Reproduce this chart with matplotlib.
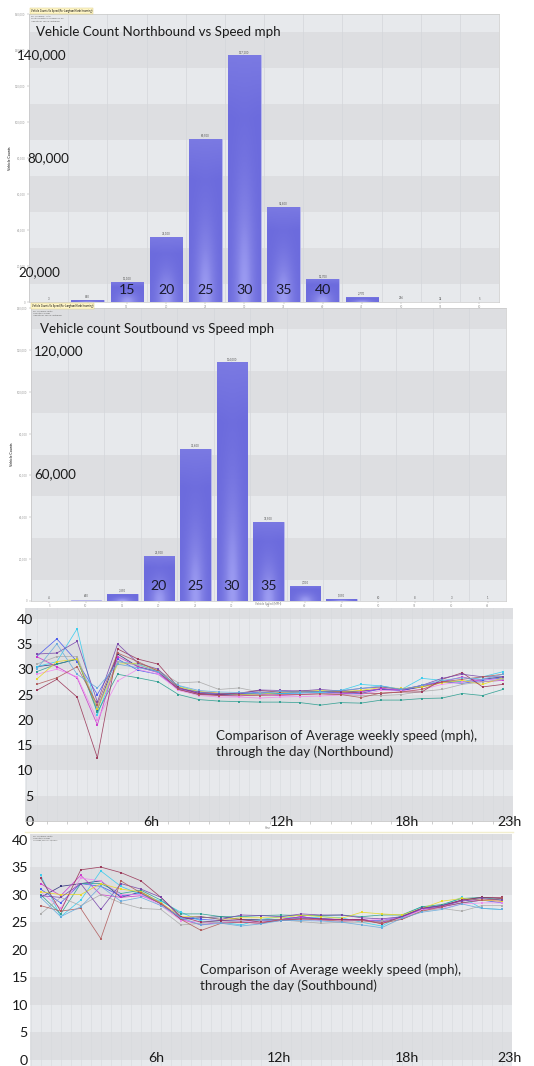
import numpy as np
import matplotlib
matplotlib.use("Agg")
import matplotlib.pyplot as plt
from matplotlib.colors import LinearSegmentedColormap

plt.rcParams['font.family'] = ['Lato', 'DejaVu Sans']

# ---------------- data ----------------
# speed bins (mph) and vehicle counts
nb_speeds = [5, 10, 15, 20, 25, 30, 35, 40, 45, 50, 55, 60]
nb_counts = [3, 860, 11100, 36100, 90500, 137100, 52800, 12700, 2770, 236, 32, 5]

sb_speeds = [5, 10, 15, 20, 25, 30, 35, 40, 45, 50, 55, 60, 65]
sb_counts = [4, 640, 3350, 21500, 72600, 114000, 37900, 7200, 1050, 60, 8, 3, 1]

hours = list(range(24))

# average weekly speed per hour, northbound (one list per week)
nb_weeks = {
    'w1':  [30.5, 31, 32, 22, 33, 30.5, 29.5, 26, 25, 25, 25, 25.3, 25.2, 25.5, 25.6, 25.5, 25.7, 26, 25.8, 26.5, 27.5, 27.5, 28, 28.5],
    'w2':  [32.5, 36, 31.5, 25, 32, 29.8, 29, 26.2, 25.3, 25.1, 25.1, 25.5, 25.2, 25.3, 25.5, 25.3, 25.2, 26.2, 25.7, 26.8, 27.5, 27.2, 27.8, 28.3],
    'w3':  [30.5, 31.5, 38, 21, 31.5, 31, 29.5, 26.7, 25.5, 24.8, 25, 25.1, 25.2, 25.3, 25.4, 25.8, 27, 26.7, 26, 28.2, 27.8, 27.5, 28.5, 29.5],
    'w4':  [29.5, 31, 32, 21.5, 29, 28.3, 27.5, 25, 24, 23.7, 23.6, 23.5, 23.5, 23.4, 22.9, 23.4, 23.3, 23.9, 23.9, 24.2, 24.3, 25.2, 24.8, 26],
    'w5':  [32.5, 30.5, 28.3, 19, 32.5, 30.5, 29.3, 26, 25.2, 24.8, 24.7, 25, 24.8, 25, 25.2, 25.1, 25.5, 26.2, 25.9, 26.8, 27.5, 28.5, 27.5, 27.8],
    'w6':  [29, 30, 28.5, 20, 27.7, 30, 29, 25.8, 24.8, 24.5, 24.5, 24.3, 24.5, 24.6, 24.7, 24.9, 25, 25.8, 25.7, 26, 27, 27.5, 28, 28],
    'w7':  [28, 31.5, 32, 22.2, 31, 31.2, 29.8, 26.5, 25.6, 25.3, 25, 25.1, 25.4, 25.6, 25.8, 25.6, 25.8, 26.4, 26.2, 26.5, 27.3, 27.8, 27, 28.3],
    'w8':  [31, 32.5, 32.5, 22.5, 31.5, 30.8, 29.7, 27.3, 27.5, 26, 26.3, 25.5, 25.5, 25.4, 25.2, 25, 24.8, 24.8, 25, 25.6, 26, 27, 27.5, 28],
    'w9':  [25.8, 28, 24.5, 12.5, 34, 32, 31, 26.4, 25.2, 25, 25.3, 25.8, 25.5, 25.7, 25.6, 25.5, 25.3, 25.2, 25.5, 25.5, 28, 29.3, 26.5, 27],
    'w10': [33, 33.2, 35.5, 23.5, 35, 31.2, 30, 26.2, 25.5, 25.2, 25.1, 25.9, 25.8, 25.7, 26, 25.7, 26.2, 26.5, 26, 26.8, 28.2, 29, 28.5, 28.5],
    'w11': [27, 28.3, 30.5, 23, 33.2, 31.5, 29.6, 26, 25, 24.8, 24.9, 24.8, 25, 25, 25.1, 25, 24.4, 25.3, 25.5, 26, 27.5, 28, 28.5, 29],
    'w12': [30, 35, 29, 26.3, 31, 30.3, 29.5, 26.8, 25.8, 25.5, 25.4, 25.2, 25.6, 25.5, 25.6, 25.8, 26.2, 26.7, 26, 26.8, 27.8, 28.3, 28, 29],
}

# southbound
sb_weeks = {
    'w1':  [29.5, 31.5, 32, 32.5, 29.5, 30.5, 28.5, 25.5, 25.8, 26, 25.5, 25.5, 25.5, 26, 25.5, 25.5, 25.5, 25, 26, 27.5, 28, 29, 29.5, 29.3],
    'w2':  [31, 28.5, 32, 31.5, 29.8, 30.2, 28.3, 25.8, 25.5, 25.3, 25.2, 25.3, 25.3, 25.8, 25.7, 25.4, 25.3, 25.3, 26, 27.3, 27.8, 28.5, 29, 28.5],
    'w3':  [33.5, 26, 29, 34.3, 31.5, 30, 28.8, 26.8, 25.2, 25, 24.5, 25.5, 26, 25.6, 26, 25.8, 25, 24.3, 26.2, 27.8, 28, 29.5, 27.5, 27.3],
    'w4':  [30, 26.5, 32, 32, 30.2, 30.8, 29, 26.5, 26.5, 26, 26, 26.2, 26.3, 26.2, 26.2, 26.3, 26, 26.3, 26.3, 27.8, 28.2, 29.3, 29.5, 29],
    'w5':  [32, 29.8, 33.5, 30, 29.5, 29.8, 28.5, 25.5, 24.5, 25, 25, 24.8, 25.5, 26, 25.5, 25.5, 25.5, 25, 25.8, 27.3, 27.7, 29, 29, 28.8],
    'w6':  [30.5, 27.5, 33, 32.5, 30, 30, 28, 25.3, 25, 24.8, 25.3, 25, 25.3, 25.5, 25.3, 25.2, 25.3, 25.5, 25.7, 27.2, 27.5, 28.3, 28.5, 28.5],
    'w7':  [30.5, 30, 30, 32, 31, 30.5, 28.5, 26, 26, 25.5, 25.8, 25.8, 25.8, 26.3, 26, 25.7, 26.8, 26.5, 26.3, 27.5, 28.8, 29.3, 29, 28.8],
    'w8':  [26.5, 29.5, 28, 30, 28.5, 27.5, 27.3, 24.5, 24.8, 25, 25.2, 25.4, 25.4, 25.1, 24.8, 25, 25, 25.2, 25.5, 27, 27.5, 27, 28, 28],
    'w9':  [33, 27, 34.5, 35, 34, 32.5, 29.5, 26, 25, 25.3, 25.5, 25, 25.3, 25.6, 25.6, 25.5, 25.5, 24.7, 26, 27.5, 28, 29, 29.5, 29.5],
    'w10': [29.8, 29.5, 32, 27.3, 32, 31, 29.5, 25.8, 26, 25.5, 26.3, 26.2, 26, 26.5, 26.3, 26.3, 25.8, 25.6, 26, 27.5, 28, 28.8, 29.3, 29],
    'w11': [28, 27, 27.5, 22, 32.5, 30.3, 28.3, 25.5, 23.5, 24.8, 25, 24.8, 25.5, 25.6, 25.4, 25.2, 25.3, 24.8, 25.5, 27, 27.8, 28.5, 29, 29.3],
    'w12': [29.5, 26, 27.8, 31.5, 28.8, 29.5, 28, 25.8, 24.5, 24.8, 24.3, 24.7, 25.3, 25.3, 25.2, 25, 24.5, 24, 25.7, 26.8, 27.3, 28.3, 27.5, 27.3],
}

week_colors = ['#2b2b7a', '#4455ee', '#33ccee', '#2a9d8f', '#cc33cc', '#ee88ee',
               '#e8d820', '#aaaaaa', '#993355', '#7744aa', '#b05a5a', '#66aadd']

hour_labels = ['6h', '12h', '18h', '23h']

# ---------------- figure ----------------
W, H = 534, 1066
fig = plt.figure(figsize=(W / 100, H / 100), dpi=100)
fig.patch.set_facecolor('white')

BIG = 9.6


def px_axes(x0, y0, x1, y1):
    return fig.add_axes([x0 / W, 1 - y1 / H, (x1 - x0) / W, (y1 - y0) / H])


def ftext(x, y, s, **kw):
    fig.text(x / W, 1 - y / H, s, **kw)


LIGHT = '#e7e9ec'
DARK = '#dddee1'
bar_cmap = LinearSegmentedColormap.from_list('bars', ['#6c6bdd', '#8483e6', '#a6a6f7'])


def bands(ax, start, width, top):
    # alternating darker horizontal stripes
    ax.set_facecolor(LIGHT)
    lo = start
    while lo < top:
        ax.axhspan(lo, lo + width, color=DARK, zorder=0, lw=0)
        lo += 2 * width


def bar_panel(ax, speeds, counts, ymax):
    x = np.arange(len(speeds))
    bands(ax, 10000, 20000, ymax)
    for b in np.arange(len(speeds) + 1) - 0.5:
        ax.axvline(b, color='#d3d6da', lw=0.5, zorder=0.5)
    bars = ax.bar(x, counts, width=0.83, color='#7473df', edgecolor='#b8b8ee', lw=0.6, zorder=2)
    # shaded fill inside each bar
    gx = np.linspace(-1, 1, 40)
    gy = np.linspace(0, 1, 80)
    GX, GY = np.meshgrid(gx, gy)
    grad = 0.85 * np.exp(-(GX ** 2 / 0.35 + GY ** 2 / 0.2)) + 0.3 * np.clip((GY - 0.75) / 0.25, 0, 1)
    for r in bars:
        if r.get_height() < ymax * 0.005:
            continue
        x0, y0 = r.get_x(), r.get_y()
        im = ax.imshow(grad, extent=[x0, x0 + r.get_width(), y0, y0 + r.get_height()],
                       origin='lower', aspect='auto', cmap=bar_cmap, zorder=2.5,
                       vmin=0, vmax=1)
        im.set_clip_path(r)
    for xi, c in zip(x, counts):
        ax.text(xi, c + ymax * 0.004, f'{c:,}', ha='center', va='bottom', fontsize=2, color='#555555', zorder=4)
    ax.set_xlim(-0.5, len(speeds) - 0.5)
    ax.set_ylim(0, ymax)
    ax.set_xticks(x)
    ax.set_xticklabels([str(s) for s in speeds], fontsize=2, color='#666666')
    ax.set_yticks(np.arange(0, ymax + 1, 20000))
    ax.set_yticklabels([f'{int(v):,}' for v in np.arange(0, ymax + 1, 20000)], fontsize=2, color='#666666')
    ax.tick_params(length=1.5, width=0.3, pad=1, colors='#999999')
    ax.set_ylabel('Vehicle Counts', fontsize=2.5, labelpad=2)
    for s in ax.spines.values():
        s.set_color('#c8c8c8')
        s.set_linewidth(0.5)
    return x


# ---- panel 1 : northbound counts ----
ax1 = px_axes(29, 14, 499, 302)
x1 = bar_panel(ax1, nb_speeds, nb_counts, 160000)
for s, xi in zip(nb_speeds, x1):
    if 15 <= s <= 40:
        ax1.text(xi, 6800, str(s), ha='center', va='center', fontsize=BIG + 0.6, color='#1a1a2e', zorder=5)

ftext(31, 11, 'Vehicle Counts Vs Speed (For Langham North Incoming)', fontsize=1.8, va='center',
      bbox=dict(boxstyle='square,pad=0.3', fc='#fff6c8', ec='#d8c878', lw=0.3))
for i, s in enumerate(['For Langham North', 'South Hampton Perfidium 01-03', 'Indicate By Speed Histogram']):
    ftext(31, 16.5 + i * 2.2, s, fontsize=1.6, color='#666666', va='center')
ftext(36, 32, 'Vehicle Count Northbound vs Speed mph', fontsize=BIG, va='center', color='#1a1a1a')
ftext(17, 55, '140,000', fontsize=BIG, va='center', color='#1a1a1a')
ftext(27, 158, '80,000', fontsize=BIG, va='center', color='#1a1a1a')
ftext(18, 272, '20,000', fontsize=BIG, va='center', color='#1a1a1a')

# ---- panel 2 : southbound counts ----
ax2 = px_axes(31, 308, 506, 601)
x2 = bar_panel(ax2, sb_speeds, sb_counts, 140000)
for s, xi in zip(sb_speeds, x2):
    if 20 <= s <= 35:
        ax2.text(xi, 7200, str(s), ha='center', va='center', fontsize=BIG + 0.6, color='#1a1a2e', zorder=5)
ax2.set_xlabel('Vehicle Speed (MPH)', fontsize=2, labelpad=1)

ftext(32, 306, 'Vehicle Counts Vs Speed (For Langham North Incoming)', fontsize=1.8, va='center',
      bbox=dict(boxstyle='square,pad=0.3', fc='#fff6c8', ec='#d8c878', lw=0.3))
for i, s in enumerate(['For Langham South', 'Ubiquitous Roads', 'Indicate By Speed Histogram']):
    ftext(33, 311 + i * 2.2, s, fontsize=1.6, color='#666666', va='center')
ftext(40, 329, 'Vehicle count Soutbound vs Speed mph', fontsize=BIG, va='center', color='#1a1a1a')
ftext(34, 351, '120,000', fontsize=BIG, va='center', color='#1a1a1a')
ftext(34, 474, '60,000', fontsize=BIG, va='center', color='#1a1a1a')


# ---- speed panels ----
def speed_panel(ax, weeks, xlim, ylim, pad):
    bands(ax, 0, 5, ylim[1])
    for g in np.arange(-0.5, 24, 0.5):
        ax.axvline(g, color='#d6d9dd', lw=0.4, zorder=0.5)
    for (name, vals), c in zip(weeks.items(), week_colors):
        ax.plot(hours, vals, color=c, lw=0.55, marker='s', ms=1.7, mec=c, mew=0, alpha=0.9, zorder=3)
    ax.set_xlim(*xlim)
    ax.set_ylim(*ylim)
    ax.set_yticks(range(0, 41, 5))
    ax.set_yticklabels([str(v) for v in range(0, 41, 5)], fontsize=BIG + 0.6, color='#1a1a1a')
    ax.tick_params(axis='y', length=0, pad=pad)
    ax.set_xticks(np.array(hours) + 0.5)
    ax.tick_params(axis='x', length=2.5, width=0.4, colors='#aaaaaa', labelbottom=False)
    for s in ax.spines.values():
        s.set_visible(False)
    ax.spines['bottom'].set_visible(True)
    ax.spines['bottom'].set_color('#bbbbbb')
    ax.spines['bottom'].set_linewidth(0.5)


ax3 = px_axes(25, 608, 513, 821)
speed_panel(ax3, nb_weeks, (-0.57, 22.6), (0, 42.1), -6)
ftext(268, 606, 'Vehicle Speed (MPH)', fontsize=2, ha='center', va='bottom', color='#777777')
for lab, xp in zip(hour_labels, [151, 282, 407, 510]):
    ftext(xp, 822, lab, fontsize=BIG + 0.6, ha='center', va='center', color='#1a1a1a')
ftext(268, 828, 'Hour', fontsize=2, ha='center', va='center', color='#777777')
ftext(216, 744, 'Comparison of Average weekly speed (mph),\nthrough the day (Northbound)',
      fontsize=BIG, va='center', color='#222222', linespacing=1.3)

fig.add_artist(plt.Line2D([25 / W, 513 / W], [1 - 832 / H, 1 - 832 / H], color='#f3efcf', lw=1))

ax4 = px_axes(30, 834, 512, 1066)
speed_panel(ax4, sb_weeks, (-0.53, 22.53), (-1.1, 41.0), 1.5)
for i, s in enumerate(['For Langham South', 'Ubiquitous Roads', 'Average Weekly Speeds']):
    ftext(33, 836 + i * 2.2, s, fontsize=1.6, color='#666666', va='center')
for lab, xp in zip(hour_labels, [156, 279, 407, 510]):
    ftext(xp, 1058, lab, fontsize=BIG + 0.6, ha='center', va='center', color='#1a1a1a')
ftext(200, 978, 'Comparison of Average weekly speed (mph),\nthrough the day (Southbound)',
      fontsize=BIG, va='center', color='#222222', linespacing=1.3)

fig.savefig('out.png', dpi=100)
